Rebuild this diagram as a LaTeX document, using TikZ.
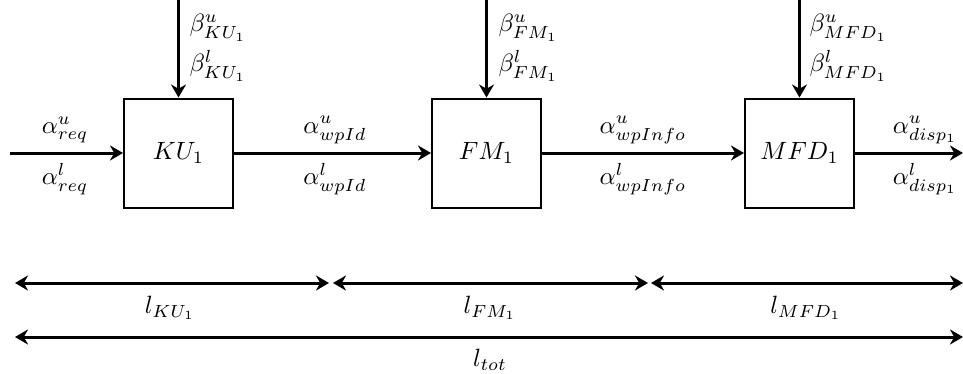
\documentclass[tikz,border=0pt]{standalone}
\usetikzlibrary{arrows.meta}
\begin{document}
\begin{tikzpicture}[x=0.4pt,y=-0.4pt,
  blk/.style={draw,line width=0.8pt,minimum width=43.6pt,minimum height=43.6pt,inner sep=0pt},
  flow/.style={line width=1.2pt,-{Stealth[length=5.2pt,width=6pt]}},
  span/.style={line width=1.2pt,{Stealth[length=5.2pt,width=6pt]}-{Stealth[length=5.2pt,width=6pt]}},
  lbl/.style={inner sep=0pt}]
\useasboundingbox (0,0) rectangle (963,374);
\node[blk] (KU) at (178.5,153) {$KU_1$};
\node[blk] (FM) at (486.5,153) {$FM_1$};
\node[blk] (MFD) at (799.5,153) {$MFD_1$};
\coordinate (in) at (10,153);
\coordinate (out) at (963,153);
\coordinate (tKU) at (178.5,0);
\coordinate (tFM) at (486.5,0);
\coordinate (tMFD) at (799.5,0);
\draw[flow] (in) -- (KU);
\draw[flow] (KU) -- (FM);
\draw[flow] (FM) -- (MFD);
\draw[flow] (MFD) -- (out);
\draw[flow] (tKU) -- (KU);
\draw[flow] (tFM) -- (FM);
\draw[flow] (tMFD) -- (MFD);
% labels
\node[lbl] (a1) at (65,130) {$\alpha^u_{req}$};
\node[lbl] (a2) at (65,179) {$\alpha^l_{req}$};
\node[lbl] (a3) at (335,130) {$\alpha^u_{wpId}$};
\node[lbl] (a4) at (335,179) {$\alpha^l_{wpId}$};
\node[lbl] (a5) at (643,130) {$\alpha^u_{wpInfo}$};
\node[lbl] (a6) at (643,179) {$\alpha^l_{wpInfo}$};
\node[lbl] (a7) at (925,130) {$\alpha^u_{disp_1}$};
\node[lbl] (a8) at (925,179) {$\alpha^l_{disp_1}$};
\node[lbl,anchor=west] (b1) at (189,28) {$\beta^u_{KU_1}$};
\node[lbl,anchor=west] (b2) at (189,66) {$\beta^l_{KU_1}$};
\node[lbl,anchor=west] (b3) at (498,28) {$\beta^u_{FM_1}$};
\node[lbl,anchor=west] (b4) at (498,66) {$\beta^l_{FM_1}$};
\node[lbl,anchor=west] (b5) at (809,28) {$\beta^u_{MFD_1}$};
\node[lbl,anchor=west] (b6) at (809,66) {$\beta^l_{MFD_1}$};
% spans
\coordinate (s0) at (15,283);
\coordinate (s1) at (329,283);
\coordinate (s1b) at (333,283);
\coordinate (s2) at (648,283);
\coordinate (s2b) at (651,283);
\coordinate (s3) at (963,283);
\coordinate (t0) at (15,337);
\coordinate (t1) at (963,337);
\draw[span] (s0) -- (s1);
\draw[span] (s1b) -- (s2);
\draw[span] (s2b) -- (s3);
\draw[span] (t0) -- (t1);
\node[lbl] (l1) at (170,308) {$l_{KU_1}$};
\node[lbl] (l2) at (490,308) {$l_{FM_1}$};
\node[lbl] (l3) at (806,308) {$l_{MFD_1}$};
\node[lbl] (l4) at (490,360) {$l_{tot}$};
\end{tikzpicture}
\end{document}
